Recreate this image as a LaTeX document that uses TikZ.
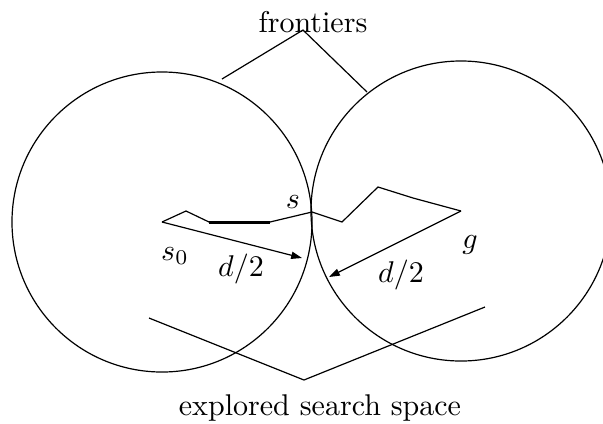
\documentclass[tikz,border=0pt]{standalone}
\usepackage{amsmath,amssymb}
\usepackage{tikz}
\usetikzlibrary{arrows.meta}
\tikzset{
  front/.style={draw, circle, minimum size=100pt, inner sep=0pt},
  trail/.style={draw, line join=miter},
  hardedge/.style={draw, line width=1pt},
  radius/.style={->, shorten >=0pt},
  lbl/.style={anchor=base, inner sep=0pt},
}

\begin{document}
\begin{tikzpicture}[x=0.3333pt, y=-0.3333pt, line width=0.4pt,
    >={Triangle[length=3.6pt, width=2.4pt]}]
  \useasboundingbox (0,0) rectangle (603,423);
  % start, goal and the meeting state
  \coordinate (s0) at (162,222);
  \coordinate (g) at (461,211);
  \coordinate (s) at (312,212);
  % the two search fronts
  \node[front] (fwd) at (s0) {};
  \node[front] (bwd) at (g) {};
  % a path through s
  \coordinate (p1) at (186,211);
  \coordinate (p2) at (209,222);
  \coordinate (p3) at (270,222);
  \coordinate (p4) at (342,222);
  \coordinate (p5) at (378,187);
  \coordinate (p6) at (413,198);
  \draw[trail] (s0) -- (p1) -- (p2);
  \draw[hardedge] (p2) -- (p3);
  \draw[trail] (p3) -- (s) -- (p4) -- (p5) -- (p6) -- (g);
  % radii
  \coordinate (r1) at (302,258);
  \coordinate (r2) at (329,277);
  \draw[radius] (s0) -- (r1);
  \draw[radius] (g) -- (r2);
  \node[lbl] (ls) at (293,208) {$s$};
  \node[lbl] (ls0) at (175,260) {$s_0$};
  \node[lbl] (lg) at (470,248) {$g$};
  \node[lbl] (ld1) at (241,276) {$d/2$};
  \node[lbl] (ld2) at (401,282) {$d/2$};
  % callouts
  \node[lbl] (frontiers) at (313,32) {frontiers};
  \coordinate (fa) at (303,30);
  \coordinate (fl) at (222,79);
  \coordinate (fr) at (367,92);
  \draw (fl) -- (fa) -- (fr);
  \node[lbl] (explored) at (320,415) {explored search space};
  \coordinate (ea) at (304,380);
  \coordinate (el) at (149,318);
  \coordinate (er) at (485,307);
  \draw (el) -- (ea) -- (er);
\end{tikzpicture}
\end{document}
